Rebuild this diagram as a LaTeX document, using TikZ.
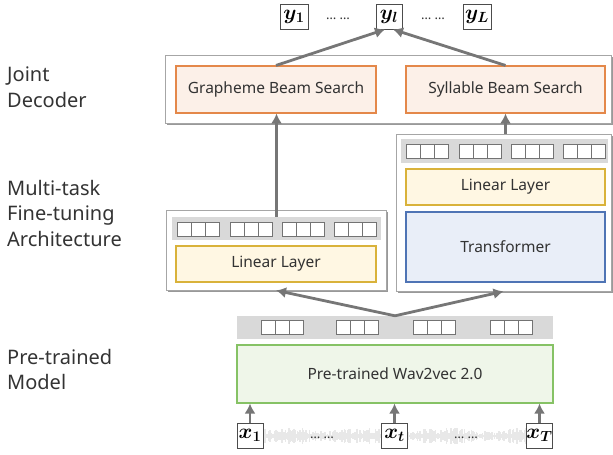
\documentclass[tikz,border=0pt]{standalone}
\usepackage{fix-cm}
\usepackage{amsmath,bm}
\usepackage{fontspec}
\setmainfont{Noto Sans}
\usetikzlibrary{arrows.meta,positioning,shadows}
\definecolor{txt}{HTML}{333333}
\definecolor{arr}{HTML}{767676}
\definecolor{orline}{HTML}{E4884A}
\definecolor{orfill}{HTML}{FCF0E8}
\definecolor{yeline}{HTML}{D9B23A}
\definecolor{yefill}{HTML}{FFF7E3}
\definecolor{blline}{HTML}{4F74B5}
\definecolor{blfill}{HTML}{E9EEF8}
\definecolor{grline}{HTML}{86C265}
\definecolor{grfill}{HTML}{EFF6E9}
\definecolor{barfill}{HTML}{D9D9D9}
\tikzset{
  stage/.style   = {anchor=north west, align=left, text=txt, font=\fontsize{20}{25.5}\selectfont, inner sep=0pt},
  frame/.style   = {draw=black!35, line width=0.8pt, fill=white, inner sep=0pt,
                    drop shadow={shadow xshift=1.5pt, shadow yshift=-1.5pt, fill=black!40, opacity=1}},
  block/.style   = {draw, line width=1.1pt, inner sep=0pt, text=txt, font=\fontsize{15.5}{18}\selectfont},
  beam/.style    = {block, draw=orline, fill=orfill, minimum width=200pt, minimum height=47pt},
  linear/.style  = {block, draw=yeline, fill=yefill, minimum width=200pt, minimum height=36pt},
  trans/.style   = {block, draw=blline, fill=blfill, minimum width=200pt, minimum height=70pt},
  wav/.style     = {block, draw=grline, fill=grfill, minimum width=316pt, minimum height=58pt},
  bar/.style     = {fill=barfill, inner sep=0pt, minimum height=23pt},
  token/.style   = {draw=black!70, line width=0.9pt, fill=white, inner sep=0pt, minimum width=26pt, minimum height=25pt,
                    font=\fontsize{21}{24}\selectfont},
  dots/.style    = {text=txt, font=\fontsize{13}{15}\selectfont, inner sep=0pt},
  conn/.style    = {-{Latex[length=10pt,width=11pt]}, draw=arr, line width=2.8pt},
  cell/.style    = {draw=black!55, line width=0.8pt, fill=white},
  cells/.pic     = {\foreach \k in {-1,0,1} \draw[cell] (\k*14-7,-7) rectangle ++(14,14);},
  wave/.style    = {draw=black!9, line width=1.6pt}
}
\begin{document}
\begin{tikzpicture}[x=1pt, y=-1pt]
  \useasboundingbox (0,0) rectangle (613,455);
  \node[stage] (lbdec) at (7,67) {Joint\\Decoder};
  \node[stage] (lbft) at (7,180) {Multi-task\\Fine-tuning\\Architecture};
  \node[stage] (lbpre) at (7,349) {Pre-trained\\Model};

  \node[frame, minimum width=446pt, minimum height=68pt] (dec) at (388,89) {};
  \node[beam] (gbs) at (276,89.5) {Grapheme Beam Search};
  \node[beam, minimum width=199pt] (sbs) at (505.5,89.5) {Syllable Beam Search};

  \node[frame, minimum width=220pt, minimum height=80pt] (ftl) at (276,250) {};
  \node[bar, minimum width=209pt] (barl) at (276.5,228.5) {};
  \foreach \c in {198,251,303,355.5} \pic at (\c,229) {cells};
  \node[linear] (linl) at (276,264) {Linear Layer};

  \node[frame, minimum width=215pt, minimum height=157pt] (ftr) at (503.5,212.5) {};
  \node[bar, minimum width=207pt, minimum height=24pt] (barr) at (504.5,151) {};
  \foreach \c in {427.5,480,532,584.5} \pic at (\c,151) {cells};
  \node[linear, minimum width=199pt] (linr) at (505.5,187) {Linear Layer};
  \node[trans, minimum width=199pt] (tf) at (505.5,247) {Transformer};

  \node[bar, minimum width=316pt] (barb) at (395,327.5) {};
  \foreach \c in {282.5,357.5,434.5,511.5} \pic at (\c,327.5) {cells};
  \node[wav] (w2v) at (395,374) {Pre-trained Wav2vec 2.0};

  \pgfmathsetseed{5}
  \foreach \i in {264,265.2,...,526} {
    \pgfmathsetmacro\h{(1.5+7*rnd)*(0.55+0.45*abs(sin(\i*2.2)))}
    \draw[wave] (\i,436-\h) -- (\i,436+\h);
  }
  \node[token] (x1) at (250,435.5) {$\bm{x_1}$};
  \node[token] (xt) at (394.5,435.5) {$\bm{x_t}$};
  \node[token] (xT) at (539.5,435.5) {$\bm{x_T}$};
  \node[dots] at (322,438) {\dots\ \dots};
  \node[dots] at (466,438) {\dots\ \dots};

  \node[token, minimum width=28pt] (y1) at (294,16.5) {$\bm{y_1}$};
  \node[token] (yl) at (389,16.5) {$\bm{y_l}$};
  \node[token, minimum width=28pt] (yL) at (477,16.5) {$\bm{y_L}$};
  \node[dots] at (338,19) {\dots\ \dots};
  \node[dots] at (433,19) {\dots\ \dots};

  \draw[conn] (x1.north) -- (x1.north |- w2v.south);
  \draw[conn] (xt.north) -- (xt.north |- w2v.south);
  \draw[conn] (xT.north) -- (xT.north |- w2v.south);
  \draw[conn] (barb.north) -- (ftl.south);
  \draw[conn] (barb.north) -- (ftr.south);
  \draw[conn] (barl.north) -- (barl.north |- gbs.south);
  \draw[conn] (sbs.south |- ftr.north) -- (sbs.south);
  \draw[conn] (gbs.north) -- ([xshift=-4pt]yl.south);
  \draw[conn] (sbs.north) -- ([xshift=4pt]yl.south);
\end{tikzpicture}
\end{document}
